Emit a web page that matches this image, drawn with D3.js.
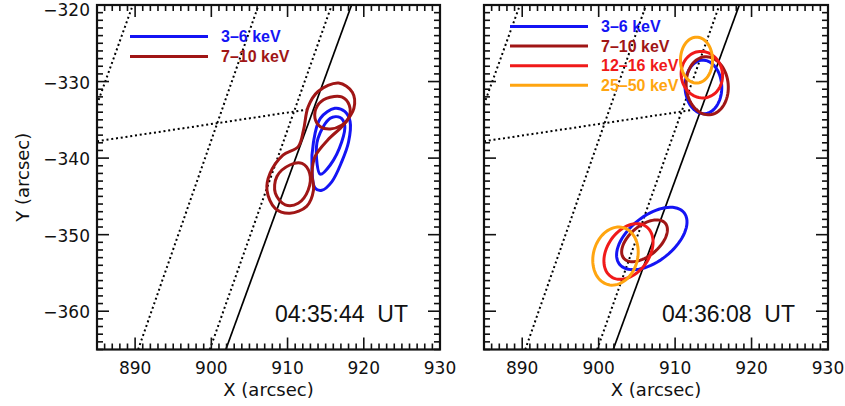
<!DOCTYPE html>
<html>
<head>
<meta charset="utf-8">
<script src="https://cdn.jsdelivr.net/npm/d3@7"></script>
<style>
  html, body { margin: 0; padding: 0; background: #fff; }
  svg { display: block; }
</style>
</head>
<body>
<svg id="chart" width="845" height="406"></svg>
<script>
// ---- axis setup -------------------------------------------------------
const xDomain = [885, 930];
const yDomain = [-365, -320];
const xTicks = [890, 900, 910, 920, 930];
const yTicks = [-320, -330, -340, -350, -360];
const xTitle = "X (arcsec)";
const yTitle = "Y (arcsec)";

// ---- energy bands -----------------------------------------------------
const bands = ["3–6 keV", "7–10 keV", "12–16 keV", "25–50 keV"];
const bandColors = ["#1414f4", "#a01616", "#f01a1a", "#ffa510"];
const times = ["04:35:44 UT", "04:36:08 UT"];

// ---- heliographic grid (arcsec) --------------------------------------
const limbLine = [[901.9, -365], [918.4, -320]];
const gridLon1 = [[885.0, -333.0], [889.7, -320]];
const gridLon2 = [[890.4, -365], [906.2, -320]];
const gridLon3 = [[899.8, -365], [915.8, -320]];
const gridLat  = [[885.0, -337.8], [913.0, -333.6]];

// ---- panel 1 contours: [band, points (X, Y)] --------------------------
const p1Blue3to6Outer = [[916.2,-333.5],[914.3,-334.8],[913.4,-337.9],[913.2,-341.3],[913.6,-343.9],
  [914.5,-344.2],[915.8,-343.1],[917.1,-340.5],[918.0,-337.9],[918.2,-335.2],[917.5,-333.9]];
const p1Blue3to6Inner = [[915.6,-334.8],[914.0,-337.4],[913.8,-340.0],[914.3,-342.1],[915.6,-340.9],
  [917.1,-337.9],[917.5,-335.7],[916.9,-334.7]];
const p1Red7to10Outer = [[916.7,-330.2],[914.0,-331.3],[912.7,-333.3],[912.1,-336.3],[911.4,-338.5],
  [909.4,-339.6],[907.7,-342.0],[907.3,-344.2],[908.4,-346.6],[910.3,-347.2],[912.5,-346.3],
  [913.4,-344.2],[913.2,-342.0],[913.6,-339.8],[915.3,-337.6],[917.3,-335.7],[918.7,-333.5],[918.5,-331.4]];
const p1Red7to10Upper = [[913.6,-334.8],[913.9,-333.2],[915.1,-332.2],[917.1,-332.0],[918.1,-333.1],
  [918.0,-334.8],[917.1,-335.7],[915.6,-336.2],[914.3,-335.9]];
const p1Red7to10Lower = [[908.6,-342.4],[910.3,-340.9],[911.9,-340.7],[912.9,-342.0],[912.7,-344.2],
  [911.4,-345.9],[909.7,-346.1],[908.4,-344.6]];

const panel1Contours = [
  { band: 0, pts: p1Blue3to6Outer },
  { band: 0, pts: p1Blue3to6Inner },
  { band: 1, pts: p1Red7to10Outer },
  { band: 1, pts: p1Red7to10Upper },
  { band: 1, pts: p1Red7to10Lower }
];

// ---- panel 2 sources: ellipses [band, cx, cy, a, b, tilt deg] ---------
const p2Band   = [0,      1,      2,      3,      0,      1,      2,      3];
const p2Cx     = [913.7,  914.2,  913.5,  912.8,  906.95, 906.0,  903.9,  902.2];
const p2Cy     = [-330.7, -330.55,-329.1, -327.2, -350.5, -350.8, -352.2, -352.8];
const p2A      = [3.5,    3.8,    3.05,   3.0,    5.4,    3.55,   4.0,    3.85];
const p2B      = [2.4,    2.75,   2.7,    2.1,    2.95,   1.95,   2.75,   2.9];
const p2Tilt   = [92,     95,     100,    90,     38.5,   40,     55,     75];

// ---- layout -----------------------------------------------------------
const panels = [
  { left: 97,  right: 440, top: 5, bottom: 349.5, bandCount: 2, legendX: 130, legendY: 36.5, legendStep: 20, showY: true },
  { left: 484, right: 828, top: 5, bottom: 349.5, bandCount: 4, legendX: 510, legendY: 26.5, legendStep: 19.6, showY: false }
];

const svg = d3.select("#chart");
svg.append("rect").attr("width", 845).attr("height", 406).attr("fill", "#fff");

const tickFont = "'DejaVu Sans', Verdana, sans-serif";
const labelFont = "'Liberation Sans', Arial, Helvetica, sans-serif";
const fmt = v => (v < 0 ? "\u2212" + Math.abs(v) : String(v));

function ellipsePath(i) {
  const t0 = p2Tilt[i] * Math.PI / 180;
  return d3.range(0, 73).map(k => {
    const t = k / 72 * 2 * Math.PI;
    const ex = p2A[i] * Math.cos(t), ey = p2B[i] * Math.sin(t);
    return [p2Cx[i] + ex * Math.cos(t0) - ey * Math.sin(t0),
            p2Cy[i] + ex * Math.sin(t0) + ey * Math.cos(t0)];
  });
}

panels.forEach((p, pi) => {
  const x = d3.scaleLinear().domain(xDomain).range([p.left, p.right]);
  const y = d3.scaleLinear().domain(yDomain).range([p.bottom, p.top]);
  const g = svg.append("g");

  const clipId = "clip" + pi;
  g.append("clipPath").attr("id", clipId).append("rect")
    .attr("x", p.left).attr("y", p.top)
    .attr("width", p.right - p.left).attr("height", p.bottom - p.top);

  const plot = g.append("g").attr("clip-path", `url(#${clipId})`);
  const line = d3.line().x(d => x(d[0])).y(d => y(d[1]));

  // grid lines
  [gridLon1, gridLon2, gridLon3, gridLat].forEach(seg => {
    plot.append("path").attr("d", line(seg))
      .attr("fill", "none").attr("stroke", "#000").attr("stroke-width", 2)
      .attr("stroke-dasharray", "2 2.8");
  });
  plot.append("path").attr("d", line(limbLine))
    .attr("fill", "none").attr("stroke", "#000").attr("stroke-width", 1.7);

  // contours
  if (pi === 0) {
    const closed = d3.line().x(d => x(d[0])).y(d => y(d[1]))
      .curve(d3.curveCatmullRomClosed.alpha(0.5));
    panel1Contours.forEach(c => {
      plot.append("path").attr("d", closed(c.pts))
        .attr("fill", "none").attr("stroke", bandColors[c.band])
        .attr("stroke-width", 3).attr("stroke-linejoin", "round");
    });
  } else {
    const ring = d3.line().x(d => x(d[0])).y(d => y(d[1])).curve(d3.curveLinearClosed);
    p2Band.forEach((b, i) => {
      plot.append("path").attr("d", ring(ellipsePath(i)))
        .attr("fill", "none").attr("stroke", bandColors[b])
        .attr("stroke-width", 3);
    });
  }

  // axes with inward major/minor ticks on all four sides
  const minorX = d3.range(xDomain[0], xDomain[1] + 0.5, 1);
  const minorY = d3.range(yDomain[0], yDomain[1] + 0.5, 1);
  const tickG = g.append("g").attr("stroke", "#111").attr("stroke-width", 1.6);
  minorX.forEach(v => {
    const len = xTicks.includes(v) ? 12 : 6;
    tickG.append("line").attr("x1", x(v)).attr("x2", x(v)).attr("y1", p.bottom).attr("y2", p.bottom - len);
    tickG.append("line").attr("x1", x(v)).attr("x2", x(v)).attr("y1", p.top).attr("y2", p.top + len);
  });
  minorY.forEach(v => {
    const len = yTicks.includes(v) ? 12 : 6;
    tickG.append("line").attr("y1", y(v)).attr("y2", y(v)).attr("x1", p.left).attr("x2", p.left + len);
    tickG.append("line").attr("y1", y(v)).attr("y2", y(v)).attr("x1", p.right).attr("x2", p.right - len);
  });
  g.append("rect").attr("x", p.left).attr("y", p.top)
    .attr("width", p.right - p.left).attr("height", p.bottom - p.top)
    .attr("fill", "none").attr("stroke", "#111").attr("stroke-width", 2.2);

  // tick labels
  xTicks.forEach(v => {
    g.append("text").attr("x", x(v)).attr("y", 374)
      .attr("text-anchor", "middle").attr("font-family", tickFont)
      .attr("font-size", 17).attr("fill", "#111").text(fmt(v));
  });
  if (p.showY) {
    yTicks.forEach(v => {
      g.append("text").attr("x", 90).attr("y", Math.max(y(v) + 7, 16))
        .attr("text-anchor", "end").attr("font-family", tickFont)
        .attr("font-size", 17).attr("fill", "#111").text(fmt(v));
    });
    g.append("text")
      .attr("transform", `translate(29,${(p.top + p.bottom) / 2}) rotate(-90)`)
      .attr("text-anchor", "middle").attr("font-family", tickFont)
      .attr("font-size", 18).attr("fill", "#111").text(yTitle);
  }
  g.append("text").attr("x", (p.left + p.right) / 2).attr("y", 396)
    .attr("text-anchor", "middle").attr("font-family", tickFont)
    .attr("font-size", 18).attr("fill", "#111").text(xTitle);

  // time stamp
  g.append("text").attr("x", p.left + 178).attr("y", 321.5)
    .attr("font-family", labelFont).attr("font-size", 23).attr("fill", "#111")
    .attr("word-spacing", 6.4)
    .text(times[pi]);

  // legend
  bands.slice(0, p.bandCount).forEach((name, i) => {
    const ly = p.legendY + i * p.legendStep;
    g.append("line").attr("x1", p.legendX).attr("x2", p.legendX + 78)
      .attr("y1", ly).attr("y2", ly)
      .attr("stroke", bandColors[i]).attr("stroke-width", 3);
    g.append("text").attr("x", p.legendX + 91).attr("y", ly + 5.5)
      .attr("font-family", labelFont).attr("font-weight", "bold")
      .attr("font-size", 16).attr("fill", bandColors[i]).text(name);
  });
});
</script>
</body>
</html>
